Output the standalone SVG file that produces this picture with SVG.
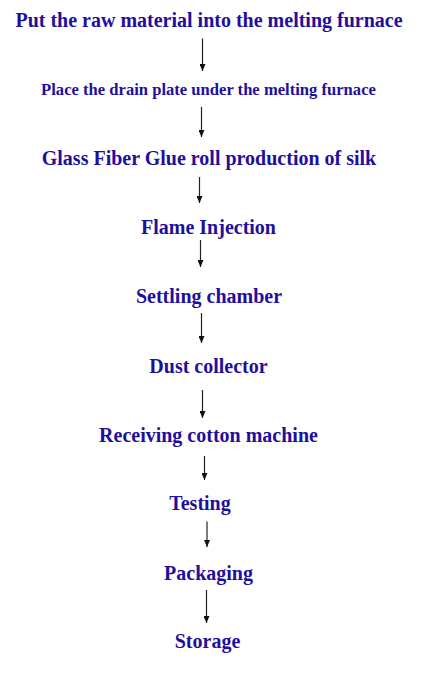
<svg xmlns="http://www.w3.org/2000/svg" width="425" height="685" viewBox="0 0 425 685">
<defs>
<marker id="ah" viewBox="0 0 7 6" refX="7" refY="3" markerWidth="7" markerHeight="6" markerUnits="userSpaceOnUse" orient="auto">
<path d="M0,0 L7,3 L0,6 Z" fill="#111"/>
</marker>
<style>
.t{font-family:"Liberation Serif","Times New Roman",serif;font-weight:bold;font-size:20px;fill:#1f0f9e;text-anchor:middle}
.s{font-size:16.6px}
.c{stroke:#222;stroke-width:1.2;fill:none;marker-end:url(#ah)}
</style>
</defs>
<rect width="425" height="685" fill="#fff"/>
<g id="n1"><text class="t" x="209" y="26.7">Put the raw material into the melting furnace</text></g>
<g id="n2"><text class="t s" x="208.5" y="95">Place the drain plate under the melting furnace</text></g>
<g id="n3"><text class="t" x="209" y="165">Glass Fiber Glue roll production of silk</text></g>
<g id="n4"><text class="t" x="208.5" y="234">Flame Injection</text></g>
<g id="n5"><text class="t" x="209" y="303">Settling chamber</text></g>
<g id="n6"><text class="t" x="208.5" y="372.5">Dust collector</text></g>
<g id="n7"><text class="t" x="208.5" y="441.5">Receiving cotton machine</text></g>
<g id="n8"><text class="t" x="200" y="509.5">Testing</text></g>
<g id="n9"><text class="t" x="208.5" y="580">Packaging</text></g>
<g id="n10"><text class="t" x="207.5" y="648">Storage</text></g>
<g id="connectors">
<line class="c" x1="202.5" y1="38.5" x2="202.5" y2="71"/>
<line class="c" x1="201.5" y1="107" x2="201.5" y2="137"/>
<line class="c" x1="199.5" y1="177" x2="199.5" y2="203"/>
<line class="c" x1="200.5" y1="240" x2="200.5" y2="267"/>
<line class="c" x1="201.5" y1="313" x2="201.5" y2="343"/>
<line class="c" x1="202.5" y1="390" x2="202.5" y2="418"/>
<line class="c" x1="204.5" y1="456" x2="204.5" y2="480"/>
<line class="c" x1="207" y1="521.5" x2="207" y2="547"/>
<line class="c" x1="206.5" y1="590" x2="206.5" y2="623"/>
</g>
</svg>
